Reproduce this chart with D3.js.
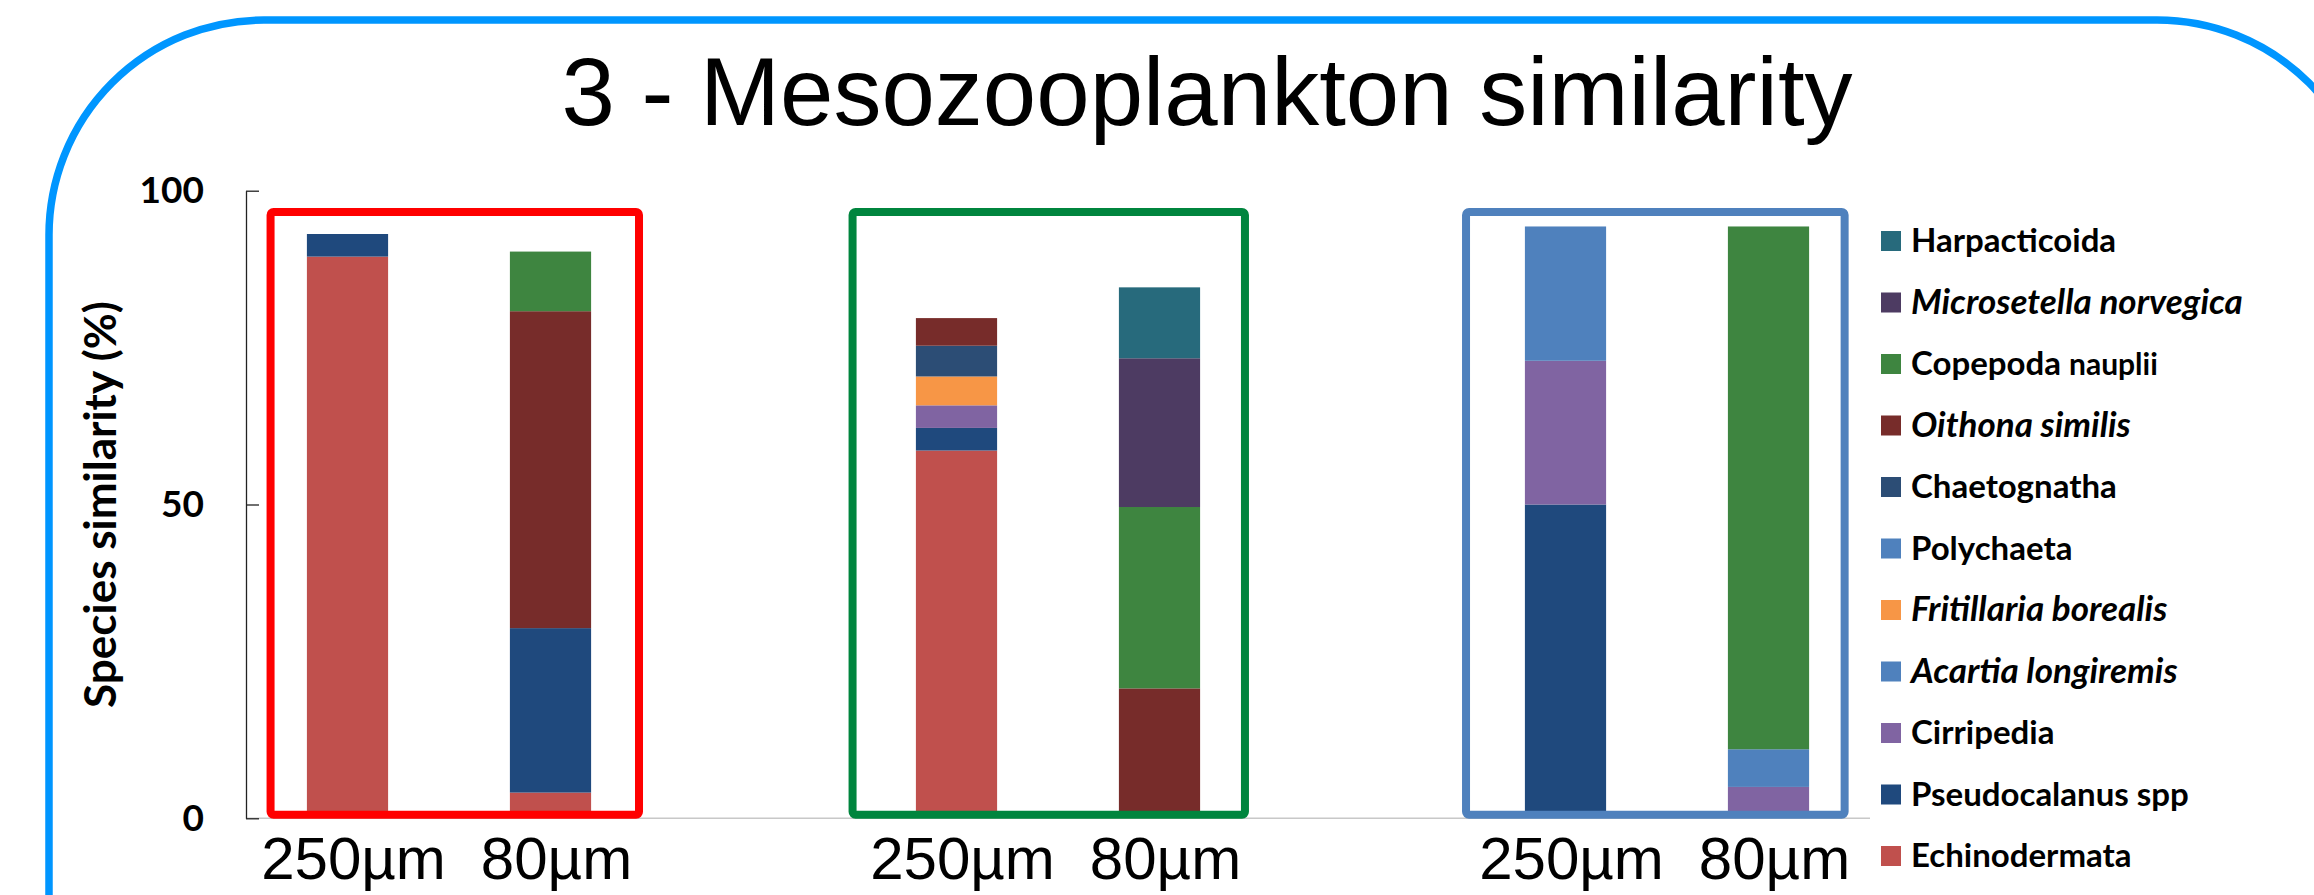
<!DOCTYPE html>
<html>
<head>
<meta charset="utf-8">
<script src="https://cdn.jsdelivr.net/npm/d3@7"></script>
<style>
  body { margin: 0; background: #ffffff; }
  svg { display: block; }
</style>
</head>
<body>
<svg id="chart" width="2314" height="895"></svg>
<script>
// ---------------- DATA ----------------
const title = "3 - Mesozooplankton similarity";
const yTitle = "Species similarity (%)";
const categories = ["s1-250", "s1-80", "gap1", "s2-250", "s2-80", "gap2", "s3-250", "s3-80"];
const xTickLabels = ["250µm", "80µm", "", "250µm", "80µm", "", "250µm", "80µm"];
const yTicks = [0, 50, 100];

// stacking order bottom -> top
const species = ["Echinodermata", "Pseudocalanus spp", "Cirripedia", "Acartia longiremis",
  "Fritillaria borealis", "Polychaeta", "Chaetognatha", "Oithona similis",
  "Copepoda nauplii", "Microsetella norvegica", "Harpacticoida"];
const italicSpecies = ["Acartia longiremis", "Fritillaria borealis", "Oithona similis", "Microsetella norvegica"];
const speciesColors = ["#C0504D", "#1F497D", "#8064A2", "#4F81BD", "#F79646", "#4F81BD",
  "#2C4D75", "#772C2A", "#3E8540", "#4D3B62", "#276A7C"];

// values per category (same order as categories)
const echinodermata = [89.5, 4.1, 0, 58.6, 0, 0, 0, 0];
const pseudocalanus = [3.6, 26.2, 0, 3.6, 0, 0, 50.0, 0];
const cirripedia    = [0, 0, 0, 3.6, 0, 0, 22.9, 5.0];
const acartia       = [0, 0, 0, 0, 0, 0, 0, 6.0];
const fritillaria   = [0, 0, 0, 4.6, 0, 0, 0, 0];
const polychaeta    = [0, 0, 0, 0, 0, 0, 21.4, 0];
const chaetognatha  = [0, 0, 0, 4.9, 0, 0, 0, 0];
const oithona       = [0, 50.5, 0, 4.4, 20.7, 0, 0, 0];
const copepoda      = [0, 9.5, 0, 0, 28.9, 0, 0, 83.3];
const microsetella  = [0, 0, 0, 0, 23.7, 0, 0, 0];
const harpacticoida = [0, 0, 0, 0, 11.3, 0, 0, 0];

// highlight frames (in category-slot units and y-value units)
const frameColors = ["#FF0000", "#00853E", "#4F81BD"];
const frameSlotStart = [0.121, 2.988, 6.010];
const frameSlotEnd = [1.936, 4.921, 7.875];
const frameTopValue = [96.6, 96.6, 96.6];
const frameBottomValue = [0.55, 0.55, 0.55];

// ---------------- BUILD ----------------
const seriesValues = [echinodermata, pseudocalanus, cirripedia, acartia, fritillaria,
  polychaeta, chaetognatha, oithona, copepoda, microsetella, harpacticoida];

const table = categories.map((c, i) => {
  const row = { cat: c };
  species.forEach((s, k) => { row[s] = seriesValues[k][i]; });
  return row;
});

const svg = d3.select("#chart");
const W = 2314, H = 895;
svg.append("rect").attr("width", W).attr("height", H).attr("fill", "#ffffff");

// outer slide frame
svg.append("rect")
  .attr("x", 49).attr("y", 20)
  .attr("width", 2323).attr("height", 1200)
  .attr("rx", 215).attr("ry", 215)
  .attr("fill", "none").attr("stroke", "#0096FF").attr("stroke-width", 7.5);

// title
svg.append("text")
  .attr("x", 1207).attr("y", 125)
  .attr("text-anchor", "middle")
  .attr("font-family", "'Liberation Sans', Arial, sans-serif")
  .attr("font-size", 96)
  .attr("fill", "#000")
  .text(title);

const plotLeft = 246, plotRight = 1870, plotTop = 190.7, plotBottom = 818.3;

const x = d3.scaleBand().domain(categories).range([plotLeft, plotRight])
  .paddingInner(0.6).paddingOuter(0.3);
const slot = d3.scaleLinear().domain([0, categories.length]).range([plotLeft, plotRight]);
const y = d3.scaleLinear().domain([0, 100]).range([plotBottom, plotTop]);
const color = d3.scaleOrdinal().domain(species).range(speciesColors);

// stacked bars
const stacked = d3.stack().keys(species)(table);
svg.append("g").selectAll("g")
  .data(stacked)
  .join("g")
  .attr("fill", d => color(d.key))
  .selectAll("rect")
  .data(d => d.filter(p => p[1] - p[0] > 0))
  .join("rect")
  .attr("x", d => x(d.data.cat))
  .attr("width", x.bandwidth())
  .attr("y", d => y(d[1]))
  .attr("height", d => y(d[0]) - y(d[1]));

// x baseline
svg.append("line")
  .attr("x1", plotLeft).attr("x2", plotRight)
  .attr("y1", y(0)).attr("y2", y(0))
  .attr("stroke", "#C8C8C8").attr("stroke-width", 1.5);

// y axis
const yAxis = d3.axisLeft(y).tickValues(yTicks).tickSize(-13).tickSizeOuter(0).tickPadding(42);
const gy = svg.append("g").attr("transform", `translate(${plotLeft},0)`).call(yAxis);
gy.select(".domain").attr("stroke", "#222").attr("stroke-width", 1.3);
gy.selectAll(".tick line").attr("stroke", "#222").attr("stroke-width", 1.3);
gy.selectAll(".tick text")
  .attr("font-family", "Lato, 'Open Sans', sans-serif")
  .attr("font-weight", 700)
  .attr("font-size", 37)
  .attr("fill", "#000");

// y title
svg.append("text")
  .attr("transform", `translate(116,${(plotTop + plotBottom) / 2}) rotate(-90)`)
  .attr("text-anchor", "middle")
  .attr("font-family", "Lato, 'Open Sans', sans-serif")
  .attr("font-weight", 700)
  .attr("font-size", 44)
  .attr("fill", "#000")
  .text(yTitle);

// x tick labels
svg.append("g").selectAll("text")
  .data(categories.map((c, i) => ({ c, label: xTickLabels[i] })).filter(d => d.label))
  .join("text")
  .attr("x", d => x(d.c) + x.bandwidth() / 2 + 6)
  .attr("y", 879)
  .attr("text-anchor", "middle")
  .attr("font-family", "'Liberation Sans', Arial, sans-serif")
  .attr("font-size", 60)
  .attr("fill", "#000")
  .text(d => d.label);

// highlight frames
svg.append("g").selectAll("rect")
  .data(frameColors.map((c, i) => ({ c, i })))
  .join("rect")
  .attr("x", d => slot(frameSlotStart[d.i]))
  .attr("width", d => slot(frameSlotEnd[d.i]) - slot(frameSlotStart[d.i]))
  .attr("y", d => y(frameTopValue[d.i]))
  .attr("height", d => y(frameBottomValue[d.i]) - y(frameTopValue[d.i]))
  .attr("rx", 3).attr("ry", 3)
  .attr("fill", "none")
  .attr("stroke", d => d.c)
  .attr("stroke-width", 8);

// legend (top = last series)
const legendOrder = species.slice().reverse();
const ly = d3.scalePoint().domain(legendOrder).range([241, 856]);
const lg = svg.append("g").selectAll("g")
  .data(legendOrder)
  .join("g")
  .attr("transform", d => `translate(1881,${ly(d)})`);
lg.append("rect")
  .attr("x", 0).attr("y", -10).attr("width", 20).attr("height", 20)
  .attr("fill", d => color(d));
const lt = lg.append("text")
  .attr("x", 30).attr("y", 11)
  .attr("font-family", "Lato, 'Open Sans', sans-serif")
  .attr("font-weight", 700)
  .attr("font-size", d => italicSpecies.includes(d) ? 35 : 33)
  .attr("font-style", d => italicSpecies.includes(d) ? "italic" : "normal")
  .attr("fill", "#000");
lt.each(function (d) {
  const t = d3.select(this);
  if (d === "Copepoda nauplii") {
    t.append("tspan").text("Copepoda ");
    t.append("tspan").attr("font-size", 30).text("nauplii");
  } else {
    t.text(d);
  }
});
</script>
</body>
</html>
